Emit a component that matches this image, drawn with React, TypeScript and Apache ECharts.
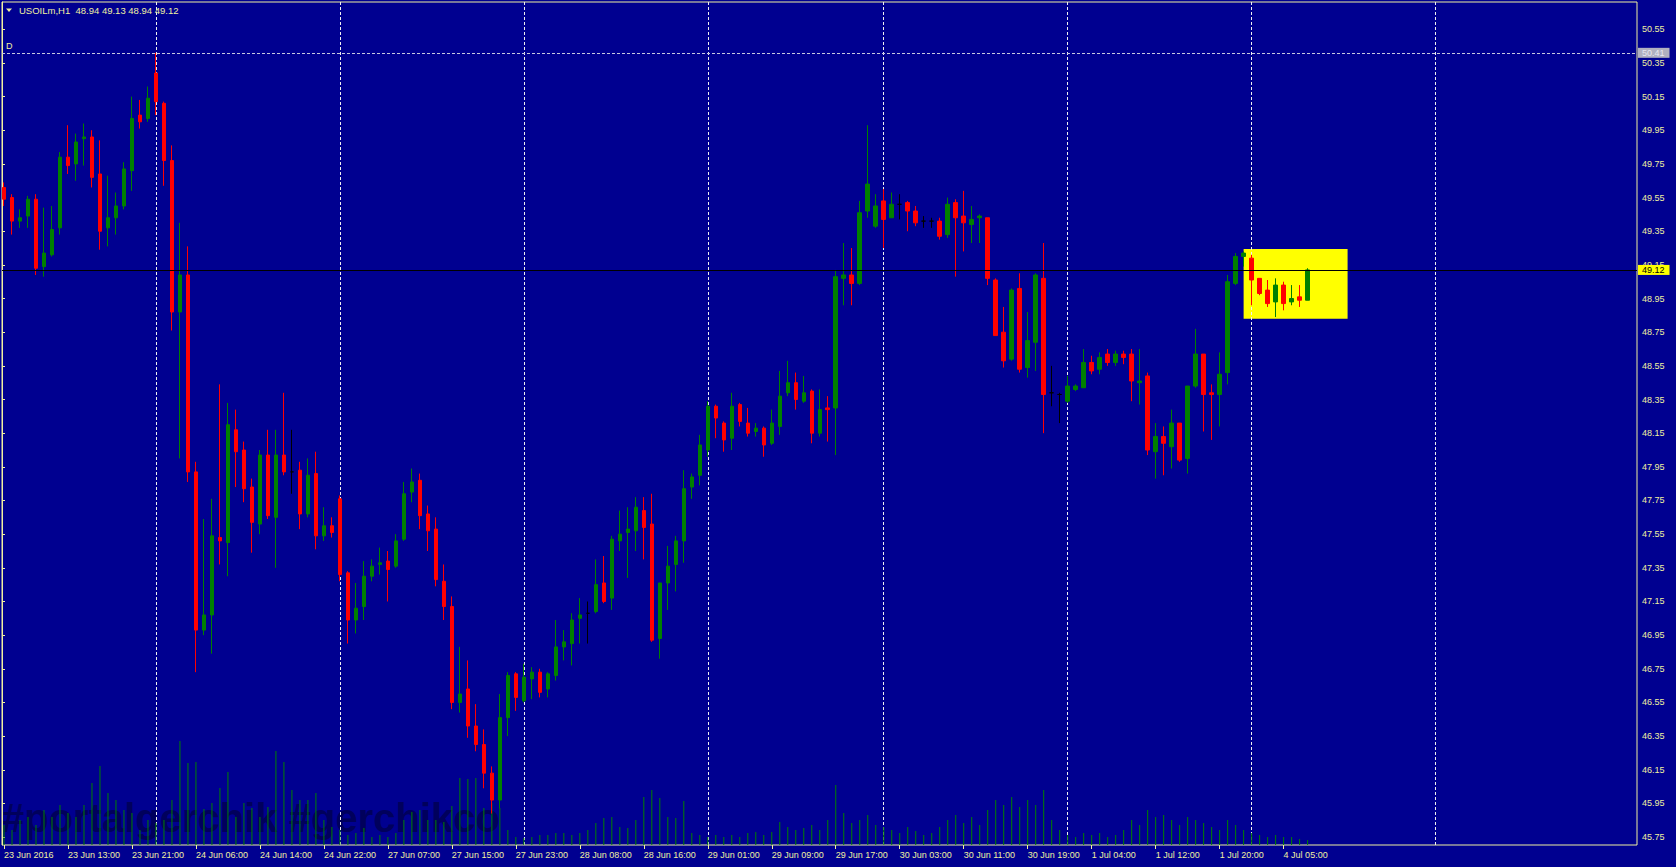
import React, { useEffect, useRef } from "react";
import * as echarts from "echarts";

// ---------- data ----------
// hourly candles, [open, high, low, close]
const candles: number[][] = [
  [49.61, 49.64, 49.5, 49.54], [49.55, 49.57, 49.33, 49.41], [49.41, 49.48, 49.37, 49.43], [49.44, 49.56, 49.37, 49.54],
  [49.54, 49.57, 49.09, 49.13], [49.14, 49.49, 49.08, 49.22], [49.21, 49.5, 49.2, 49.36], [49.37, 49.82, 49.33, 49.79],
  [49.79, 49.98, 49.69, 49.74], [49.75, 49.93, 49.65, 49.88], [49.9, 49.99, 49.74, 49.91], [49.91, 49.95, 49.61, 49.67],
  [49.69, 49.89, 49.24, 49.35], [49.37, 49.68, 49.26, 49.43], [49.43, 49.58, 49.33, 49.5], [49.5, 49.76, 49.48, 49.72],
  [49.71, 50.15, 49.59, 50.02], [50.04, 50.13, 49.96, 50.0], [50.02, 50.21, 50.0, 50.14], [50.29, 50.41, 50.04, 50.12],
  [50.11, 50.12, 49.62, 49.77], [49.77, 49.86, 48.76, 48.87], [48.87, 49.4, 48.0, 49.09], [49.09, 49.26, 47.86, 47.92],
  [47.92, 47.98, 46.73, 46.98], [46.98, 47.64, 46.95, 47.07], [47.07, 47.76, 46.84, 47.54], [47.53, 48.44, 47.37, 47.51],
  [47.5, 48.33, 47.3, 48.2], [48.17, 48.29, 47.83, 48.04], [48.05, 48.1, 47.74, 47.82], [47.83, 47.88, 47.44, 47.62],
  [47.61, 48.05, 47.55, 48.02], [48.02, 48.17, 47.64, 47.66], [47.65, 48.17, 47.35, 48.02], [48.02, 48.39, 47.9, 47.92],
  [47.92, 48.17, 47.79, 47.92], [47.93, 47.98, 47.58, 47.67], [47.67, 48.0, 47.65, 47.9], [47.91, 48.04, 47.46, 47.54],
  [47.54, 47.71, 47.51, 47.6], [47.6, 47.65, 47.53, 47.56], [47.76, 47.78, 47.27, 47.31], [47.32, 47.33, 46.9, 47.04],
  [47.04, 47.26, 46.96, 47.11], [47.12, 47.39, 47.04, 47.3], [47.3, 47.4, 47.27, 47.36], [47.37, 47.47, 47.31, 47.38],
  [47.39, 47.45, 47.15, 47.34], [47.36, 47.55, 47.35, 47.51], [47.52, 47.86, 47.51, 47.79], [47.8, 47.94, 47.74, 47.86],
  [47.87, 47.91, 47.58, 47.66], [47.67, 47.72, 47.45, 47.57], [47.58, 47.65, 47.24, 47.28], [47.27, 47.37, 47.04, 47.12],
  [47.12, 47.18, 46.51, 46.55], [46.55, 46.88, 46.49, 46.6], [46.63, 46.8, 46.34, 46.41], [46.41, 46.54, 46.26, 46.3],
  [46.3, 46.39, 46.04, 46.13], [46.13, 46.17, 45.89, 45.97], [45.97, 46.6, 45.92, 46.46], [46.46, 46.73, 46.35, 46.71],
  [46.72, 46.73, 46.5, 46.58], [46.56, 46.78, 46.55, 46.7], [46.69, 46.76, 46.57, 46.73], [46.73, 46.75, 46.58, 46.61],
  [46.63, 46.73, 46.58, 46.72], [46.71, 47.04, 46.68, 46.88], [46.88, 46.98, 46.8, 46.91], [46.9, 47.08, 46.77, 47.04],
  [47.05, 47.17, 46.9, 47.07], [47.08, 47.15, 46.9, 47.08], [47.09, 47.4, 47.08, 47.25], [47.26, 47.42, 47.14, 47.15],
  [47.17, 47.54, 47.1, 47.52], [47.51, 47.69, 47.45, 47.55], [47.56, 47.71, 47.29, 47.58], [47.57, 47.77, 47.45, 47.71],
  [47.69, 47.77, 47.4, 47.59], [47.61, 47.79, 46.91, 46.92], [46.93, 47.26, 46.81, 47.26], [47.26, 47.48, 47.1, 47.36],
  [47.37, 47.54, 47.21, 47.51], [47.51, 47.93, 47.38, 47.82], [47.83, 47.91, 47.76, 47.89], [47.9, 48.14, 47.84, 48.08],
  [48.05, 48.34, 48.01, 48.31], [48.31, 48.32, 48.12, 48.24], [48.21, 48.22, 48.04, 48.11], [48.12, 48.39, 48.05, 48.31],
  [48.32, 48.33, 48.19, 48.22], [48.21, 48.3, 48.13, 48.15], [48.16, 48.21, 48.13, 48.18], [48.18, 48.19, 48.01, 48.08],
  [48.09, 48.29, 48.08, 48.21], [48.19, 48.52, 48.14, 48.37], [48.39, 48.58, 48.37, 48.45], [48.45, 48.51, 48.29, 48.35],
  [48.34, 48.49, 48.33, 48.39], [48.4, 48.41, 48.09, 48.15], [48.15, 48.41, 48.13, 48.29], [48.3, 48.37, 48.1, 48.29],
  [48.3, 49.12, 48.02, 49.08], [49.07, 49.28, 48.91, 49.09], [49.09, 49.25, 48.91, 49.04], [49.04, 49.53, 49.03, 49.46],
  [49.47, 49.98, 49.43, 49.63], [49.38, 49.57, 49.37, 49.5], [49.53, 49.6, 49.25, 49.42], [49.43, 49.58, 49.43, 49.51],
  [49.51, 49.57, 49.42, 49.51], [49.52, 49.53, 49.35, 49.47], [49.47, 49.5, 49.38, 49.4], [49.41, 49.44, 49.37, 49.41],
  [49.41, 49.43, 49.37, 49.41], [49.41, 49.43, 49.3, 49.32], [49.33, 49.55, 49.31, 49.51], [49.52, 49.54, 49.08, 49.43],
  [49.44, 49.59, 49.23, 49.4], [49.39, 49.5, 49.28, 49.42], [49.43, 49.45, 49.28, 49.44], [49.43, 49.43, 49.03, 49.07],
  [49.06, 49.07, 48.73, 48.73], [48.75, 48.9, 48.54, 48.58], [48.59, 49.01, 48.58, 49.0], [49.01, 49.1, 48.51, 48.53],
  [48.54, 48.87, 48.48, 48.7], [48.69, 49.1, 48.52, 49.09], [49.07, 49.28, 48.15, 48.38], [48.39, 48.55, 48.31, 48.39],
  [48.38, 48.39, 48.21, 48.38], [48.34, 48.49, 48.33, 48.43], [48.41, 48.44, 48.4, 48.43], [48.42, 48.65, 48.42, 48.57],
  [48.57, 48.61, 48.5, 48.52], [48.53, 48.63, 48.5, 48.6], [48.62, 48.65, 48.55, 48.57], [48.57, 48.64, 48.55, 48.62],
  [48.62, 48.64, 48.56, 48.6], [48.62, 48.65, 48.34, 48.46], [48.45, 48.65, 48.32, 48.46], [48.49, 48.51, 48.02, 48.05],
  [48.04, 48.21, 47.88, 48.13], [48.13, 48.19, 47.9, 48.09], [48.07, 48.29, 47.94, 48.21], [48.21, 48.21, 47.98, 47.99],
  [48.0, 48.43, 47.91, 48.43], [48.43, 48.77, 48.42, 48.62], [48.62, 48.62, 48.16, 48.38], [48.39, 48.44, 48.11, 48.38],
  [48.38, 48.63, 48.19, 48.5], [48.51, 49.09, 48.44, 49.05], [49.04, 49.22, 49.03, 49.2], [49.2, 49.23, 49.14, 49.22],
  [49.19, 49.21, 48.91, 49.06], [49.07, 49.07, 48.97, 48.98], [49.0, 49.06, 48.9, 48.92], [48.93, 49.07, 48.84, 49.03],
  [49.03, 49.05, 48.88, 48.92], [48.93, 49.03, 48.91, 48.95], [48.96, 49.03, 48.9, 48.94], [48.94, 49.13, 48.94, 49.12],
];

// tick volumes
const volumes: number[] = [
  20, 15, 25, 28, 20, 35, 28, 40, 32, 28, 40, 62, 79, 52, 45, 35, 32, 15, 25, 22,
  25, 45, 104, 82, 83, 36, 42, 57, 73, 28, 42, 37, 28, 38, 94, 83, 55, 45, 45, 52,
  25, 18, 15, 10, 12, 17, 8, 10, 8, 12, 25, 33, 35, 25, 25, 23, 39, 67, 66, 67,
  37, 42, 37, 15, 8, 7, 8, 10, 10, 12, 12, 10, 12, 15, 22, 27, 28, 18, 17, 25,
  48, 55, 47, 28, 27, 44, 12, 10, 8, 10, 8, 10, 8, 12, 13, 10, 13, 23, 18, 15,
  17, 20, 15, 25, 60, 32, 22, 25, 30, 20, 18, 15, 12, 18, 14, 10, 12, 18, 25, 30,
  22, 28, 20, 35, 45, 40, 48, 38, 45, 40, 55, 25, 15, 10, 8, 12, 10, 12, 8, 10,
  15, 25, 20, 35, 28, 30, 25, 20, 28, 25, 22, 18, 15, 25, 20, 15, 12, 10, 8, 10,
  8, 8, 6, 5,
];

// time labels, one every 8 bars
const timeLabels: string[] = [
  "23 Jun 2016", "23 Jun 13:00", "23 Jun 21:00", "24 Jun 06:00", "24 Jun 14:00", "24 Jun 22:00",
  "27 Jun 07:00", "27 Jun 15:00", "27 Jun 23:00", "28 Jun 08:00", "28 Jun 16:00", "29 Jun 01:00",
  "29 Jun 09:00", "29 Jun 17:00", "30 Jun 03:00", "30 Jun 11:00", "30 Jun 19:00", "1 Jul 04:00",
  "1 Jul 12:00", "1 Jul 20:00", "4 Jul 05:00",
];
const LABEL_STEP = 8;

// price scale labels
const priceTicks: number[] = [
  45.75, 45.95, 46.15, 46.35, 46.55, 46.75, 46.95, 47.15, 47.35, 47.55, 47.75, 47.95, 48.15,
  48.35, 48.55, 48.75, 48.95, 49.15, 49.35, 49.55, 49.75, 49.95, 50.15, 50.35, 50.55,
];
const PRICE_MIN = 45.703;
const PRICE_MAX = 50.712;

// day separators (bar index of first bar of each day)
const daySeparators: number[] = [19, 42, 65, 88, 110, 133, 156, 179];

// horizontal line "D"
const levelD = 50.41;

// yellow rectangle: [fromBar, toBar], [top price, bottom price]
const boxBars: number[] = [155, 168];
const boxPrices: number[] = [49.245, 48.83];

const SLOTS = 205; // bar slots including the empty right margin

// ---------- styles ----------
const BG = "#000090";
const FG = "#F0F0A0";
const UP = "#008000";
const DOWN = "#FF0000";
const FONT = '"Liberation Sans", Arial, sans-serif';

export default function App() {
  const ref = useRef<HTMLDivElement>(null);

  useEffect(() => {
    if (!ref.current) return;
    const chart = echarts.init(ref.current, null, { renderer: "svg" });

    const categories = Array.from({ length: SLOTS }, (_, i) => String(i));
    const candleData = candles.map(([o, h, l, c]) => {
      const item: any = { value: [o, c, l, h] };
      if (o === c) {
        item.itemStyle = { color: "#000", color0: "#000", borderColor: "#000", borderColor0: "#000" };
      }
      return item;
    });
    const last = candles[candles.length - 1];
    const bid = last[3];
    const header = `USOILm,H1  ${last.map((v) => v.toFixed(2)).join(" ")}`;
    const showLabel = (idx: number) => idx % LABEL_STEP === 0 && idx / LABEL_STEP < timeLabels.length;

    const option: any = {
      animation: false,
      backgroundColor: BG,
      textStyle: { fontFamily: FONT },
      grid: [
        { left: 2, top: 2, width: 1635, height: 843, show: true, borderColor: FG, borderWidth: 1, backgroundColor: "transparent" },
        { left: -0.5, top: 2, width: 8 * SLOTS, height: 843, show: false },
      ],
      xAxis: [
        { type: "value", gridIndex: 0, min: 0, max: 1, show: false },
        {
          type: "category",
          gridIndex: 1,
          data: categories,
          boundaryGap: true,
          axisLine: { show: false },
          axisTick: { show: true, alignWithLabel: true, interval: (i: number) => showLabel(i), length: 4, lineStyle: { color: FG } },
          axisLabel: {
            show: true,
            interval: (i: number) => showLabel(i),
            formatter: (_v: string, i: number) => (showLabel(i) ? timeLabels[i / LABEL_STEP] : ""),
            color: FG,
            fontSize: 9,
            fontFamily: FONT,
            align: "left",
            margin: 5,
          },
          splitLine: { show: false },
        },
      ],
      yAxis: [
        {
          type: "value",
          gridIndex: 0,
          position: "right",
          min: PRICE_MIN,
          max: PRICE_MAX,
          axisLine: { show: true, lineStyle: { color: FG } },
          axisTick: { show: true, customValues: priceTicks, length: 3, lineStyle: { color: FG } },
          axisLabel: { show: true, customValues: priceTicks, formatter: (v: number) => v.toFixed(2), color: FG, fontSize: 9, fontFamily: FONT, margin: 5 },
          splitLine: { show: false },
        },
        { type: "value", gridIndex: 1, min: PRICE_MIN, max: PRICE_MAX, show: false },
        { type: "value", gridIndex: 1, min: 0, max: 843, show: false },
      ],
      series: [
        {
          type: "line",
          xAxisIndex: 1,
          yAxisIndex: 1,
          data: [],
          z: 1,
          silent: true,
          markLine: {
            silent: true,
            z: 1,
            symbol: ["none", "none"],
            label: { show: false },
            lineStyle: { color: "#F0F0F0", type: [3, 2], width: 1 },
            data: daySeparators.map((i) => ({ xAxis: i })),
          },
          markArea: {
            silent: true,
            z: 0,
            itemStyle: { color: "#FFFF00", opacity: 1 },
            label: { show: false },
            data: [[{ xAxis: boxBars[0], yAxis: boxPrices[0] }, { xAxis: boxBars[1], yAxis: boxPrices[1] }]],
          },
        },
        {
          type: "bar",
          xAxisIndex: 1,
          yAxisIndex: 2,
          data: volumes,
          barWidth: 1,
          z: 2,
          silent: true,
          itemStyle: { color: UP },
        },
        {
          type: "candlestick",
          xAxisIndex: 1,
          yAxisIndex: 1,
          data: candleData,
          barWidth: 4,
          z: 3,
          silent: true,
          itemStyle: { color: UP, color0: DOWN, borderColor: UP, borderColor0: DOWN, borderWidth: 1 },
        },
        {
          type: "line",
          xAxisIndex: 0,
          yAxisIndex: 0,
          data: [],
          z: 5,
          silent: true,
          markLine: {
            silent: true,
            z: 5,
            symbol: ["none", "none"],
            data: [
              {
                yAxis: levelD,
                lineStyle: { color: "#C8C8E0", type: [3, 2], width: 1 },
                label: {
                  show: true, position: "end", distance: 1, formatter: levelD.toFixed(2),
                  backgroundColor: "#B0B0C0", color: "#E8E8F0", fontSize: 9, fontFamily: FONT,
                  padding: [1, 5, 0, 4], lineHeight: 9,
                },
              },
              {
                yAxis: bid,
                lineStyle: { color: "#000000", type: "solid", width: 1 },
                label: {
                  show: true, position: "end", distance: 1, formatter: bid.toFixed(2),
                  backgroundColor: "#FFFF00", color: "#000000", fontSize: 9, fontFamily: FONT,
                  padding: [1, 5, 0, 4], lineHeight: 9,
                },
              },
            ],
          },
        },
      ],
      graphic: [
        {
          type: "text",
          z: 0,
          silent: true,
          x: 2,
          y: 818,
          style: {
            text: "#portalgerchik #gerchikco",
            fill: "#00005C",
            font: `bold 40px ${FONT}`,
            verticalAlign: "middle",
            textVerticalAlign: "middle",
          },
        },
        {
          type: "polygon",
          z: 10,
          silent: true,
          shape: { points: [[6, 8.5], [12, 8.5], [9, 12]] },
          style: { fill: FG },
        },
        {
          type: "text",
          z: 10,
          silent: true,
          x: 19,
          y: 10.5,
          style: { text: header, fill: FG, font: `9.5px ${FONT}`, verticalAlign: "middle", textVerticalAlign: "middle" },
        },
        {
          type: "text",
          z: 10,
          silent: true,
          x: 6,
          y: 46,
          style: { text: "D", fill: FG, font: `9px ${FONT}`, verticalAlign: "middle", textVerticalAlign: "middle" },
        },
      ],
    };

    chart.setOption(option);
    return () => chart.dispose();
  }, []);

  return <div ref={ref} style={{ position: "fixed", left: 0, top: 0, width: 1676, height: 867 }} />;
}
